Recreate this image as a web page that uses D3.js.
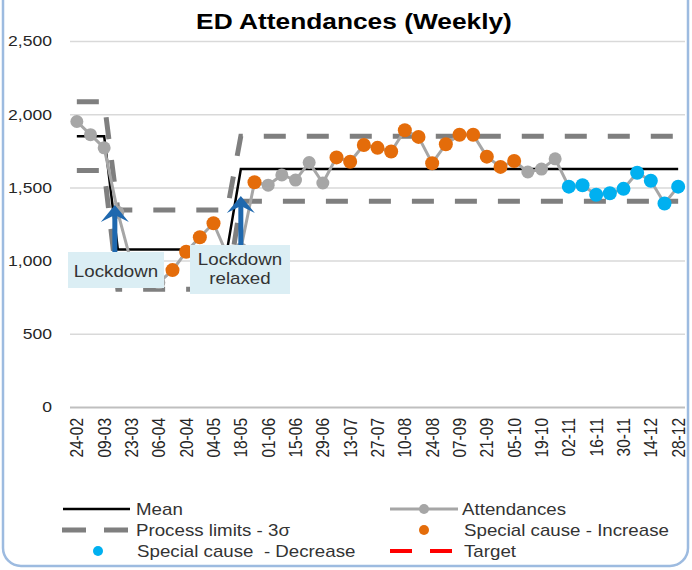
<!DOCTYPE html>
<html>
<head>
<meta charset="utf-8">
<script src="https://cdn.jsdelivr.net/npm/d3@7/dist/d3.min.js"></script>
<style>
  body { margin: 0; background: #fff; }
</style>
</head>
<body>
<div id="chart"></div>
<script>
// weekly categories (w/c dates)
var weeks = ["24-02","02-03","09-03","16-03","23-03","30-03","06-04","13-04","20-04","27-04",
             "04-05","11-05","18-05","25-05","01-06","08-06","15-06","22-06","29-06","06-07",
             "13-07","20-07","27-07","03-08","10-08","17-08","24-08","31-08","07-09","14-09",
             "21-09","28-09","05-10","12-10","19-10","26-10","02-11","09-11","16-11","23-11",
             "30-11","07-12","14-12","21-12","28-12"];

var attendances = [1950, 1860, 1770, 1330, 980, 870, 850, 935, 1060, 1160,
                   1255, 1040, 1080, 1535, 1515, 1585, 1550, 1670, 1530, 1705,
                   1675, 1790, 1770, 1745, 1890, 1845, 1665, 1795, 1860, 1860,
                   1710, 1640, 1680, 1605, 1625, 1695, 1505, 1515, 1450, 1460,
                   1490, 1600, 1545, 1390, 1505];

// points flagged as special cause
var increaseIdx = [7, 8, 9, 10, 13, 19, 20, 21, 22, 23, 24, 25, 26, 27, 28, 29, 30, 31, 32];
var decreaseIdx = [36, 37, 38, 39, 40, 41, 42, 43, 44];

// SPC periods: first week index, mean, upper and lower process limits
var periodStart = [0, 3, 12];
var periodMean  = [1850, 1075, 1626];
var periodUpper = [2085, 1345, 1850];
var periodLower = [1615, 805, 1405];

var yTicks = [0, 500, 1000, 1500, 2000, 2500];

var width = 692,
    height = 570,
    stretch = 1.17;   // source picture is a little wider than tall

var svg = d3.select("#chart").append("svg")
    .attr("width", width)
    .attr("height", height)
    .style("font-family", "Arial, 'Liberation Sans', sans-serif");

// frame
svg.append("rect")
    .attr("x", 3).attr("y", -30)
    .attr("width", 685).attr("height", 596)
    .attr("rx", 18)
    .attr("fill", "#fff")
    .attr("stroke", "#9dbbe0")
    .attr("stroke-width", 2.5);

var x = d3.scaleBand().domain(weeks).range([70, 685]);
var y = d3.scaleLinear().domain([0, 2500]).range([407, 41]);
function cx(w) { return x(w) + x.bandwidth() / 2; }

function periodOf(i) {
  var p = 0;
  periodStart.forEach(function(s, k) { if (i >= s) p = k; });
  return p;
}

var rows = weeks.map(function(w, i) {
  var p = periodOf(i);
  return {
    week: w,
    value: attendances[i],
    mean: periodMean[p],
    ucl: periodUpper[p],
    lcl: periodLower[p],
    type: increaseIdx.indexOf(i) >= 0 ? "inc" : (decreaseIdx.indexOf(i) >= 0 ? "dec" : "none")
  };
});

var colour = { none: "#a6a6a6", inc: "#e46c0a", dec: "#00b0f0" };

// title
svg.append("text")
    .attr("transform", "translate(354,29) scale(" + stretch + ",1)")
    .attr("text-anchor", "middle")
    .attr("font-size", 22.5)
    .attr("font-weight", "bold")
    .attr("fill", "#000")
    .text("ED Attendances (Weekly)");

// y axis + gridlines
var yAxis = svg.append("g")
    .attr("transform", "translate(70,0)")
    .call(d3.axisLeft(y).tickValues(yTicks).tickSize(-615)
      .tickPadding(18 / stretch).tickFormat(d3.format(",")));
yAxis.select(".domain").remove();
yAxis.selectAll("line")
    .attr("stroke", function(d) { return d === 0 ? "#bfbfbf" : "#d9d9d9"; })
    .attr("stroke-width", function(d) { return d === 0 ? 2 : 1.5; });
yAxis.selectAll("text")
    .attr("transform", "scale(" + stretch + ",1)")
    .attr("font-size", 15)
    .attr("font-family", "Arial, 'Liberation Sans', sans-serif")
    .attr("fill", "#262626");

// x axis labels, every other week
var xAxis = svg.append("g")
    .attr("transform", "translate(0,407)")
    .call(d3.axisBottom(x).tickSize(0)
      .tickValues(weeks.filter(function(d, i) { return i % 2 === 0; })));
xAxis.select(".domain").remove();
xAxis.selectAll("text")
    .attr("transform", "rotate(-90) scale(1," + stretch + ")")
    .attr("text-anchor", "end")
    .attr("x", -11)
    .attr("y", 0)
    .attr("dy", "0.35em")
    .attr("font-size", 15.5)
    .attr("font-family", "Arial, 'Liberation Sans', sans-serif")
    .attr("fill", "#262626");

// process limits
["ucl", "lcl"].forEach(function(k) {
  svg.append("path")
      .datum(rows)
      .attr("fill", "none")
      .attr("stroke", "#7f7f7f")
      .attr("stroke-width", 5)
      .attr("stroke-dasharray", "22,21")
      .attr("d", d3.line()
        .x(function(d) { return cx(d.week); })
        .y(function(d) { return y(d[k]); }));
});

// mean
svg.append("path")
    .datum(rows)
    .attr("fill", "none")
    .attr("stroke", "#000")
    .attr("stroke-width", 2.5)
    .attr("d", d3.line()
      .x(function(d) { return cx(d.week); })
      .y(function(d) { return y(d.mean); }));

// attendances
svg.append("path")
    .datum(rows)
    .attr("fill", "none")
    .attr("stroke", "#a6a6a6")
    .attr("stroke-width", 3)
    .attr("d", d3.line()
      .x(function(d) { return cx(d.week); })
      .y(function(d) { return y(d.value); }));

svg.selectAll("circle.pt")
    .data(rows)
    .enter().append("circle")
    .attr("class", "pt")
    .attr("cx", function(d) { return cx(d.week); })
    .attr("cy", function(d) { return y(d.value); })
    .attr("r", function(d) { return d.type === "none" ? 6.5 : 7; })
    .attr("fill", function(d) { return colour[d.type]; });

// annotations
function arrow(xp, base, tip) {
  svg.append("line")
      .attr("x1", xp).attr("x2", xp)
      .attr("y1", base).attr("y2", tip + 8)
      .attr("stroke", "#1f68ae")
      .attr("stroke-width", 5);
  svg.append("path")
      .attr("d", "M" + xp + "," + tip + "L" + (xp + 14) + "," + (tip + 17) +
                 "L" + xp + "," + (tip + 10) + "L" + (xp - 14) + "," + (tip + 17) + "Z")
      .attr("fill", "#1f68ae");
}

function note(bx, by, bw, bh, lines, centreX, firstBase) {
  svg.append("rect")
      .attr("x", bx).attr("y", by)
      .attr("width", bw).attr("height", bh)
      .attr("fill", "#dbeef4");
  lines.forEach(function(t, i) {
    svg.append("text")
        .attr("transform", "translate(" + centreX + "," + (firstBase + i * 19) + ") scale(" + stretch + ",1)")
        .attr("text-anchor", "middle")
        .attr("font-size", 16)
        .attr("fill", "#333")
        .text(t);
  });
}

arrow(cx("16-03") - 3, 252, 205);
note(68, 252, 96, 36, ["Lockdown"], 116, 277);
arrow(cx("18-05"), 245, 196);
note(190, 245, 100, 49, ["Lockdown", "relaxed"], 240, 265);

// legend
var legend = svg.append("g").attr("font-size", 16).attr("fill", "#333")
    .style("white-space", "pre");

function legendText(tx, ty, t) {
  legend.append("text")
      .attr("transform", "translate(" + tx + "," + ty + ") scale(" + stretch + ",1)")
      .attr("xml:space", "preserve")
      .text(t);
}

legend.append("line").attr("x1", 63).attr("x2", 130).attr("y1", 509).attr("y2", 509)
    .attr("stroke", "#000").attr("stroke-width", 2.5);
legendText(136, 515, "Mean");

legend.append("line").attr("x1", 390).attr("x2", 458).attr("y1", 509).attr("y2", 509)
    .attr("stroke", "#a6a6a6").attr("stroke-width", 3);
legend.append("circle").attr("cx", 424).attr("cy", 509).attr("r", 5).attr("fill", "#a6a6a6");
legendText(462, 515, "Attendances");

legend.append("line").attr("x1", 62).attr("x2", 128).attr("y1", 530).attr("y2", 530)
    .attr("stroke", "#7f7f7f").attr("stroke-width", 5).attr("stroke-dasharray", "24,18");
legendText(136, 536, "Process limits - 3\u03c3");

legend.append("circle").attr("cx", 424).attr("cy", 530).attr("r", 5).attr("fill", colour.inc);
legendText(464, 536, "Special cause - Increase");

legend.append("circle").attr("cx", 98).attr("cy", 551).attr("r", 5).attr("fill", colour.dec);
legendText(137, 557, "Special cause  - Decrease");

legend.append("line").attr("x1", 390).attr("x2", 452).attr("y1", 551).attr("y2", 551)
    .attr("stroke", "#ff0000").attr("stroke-width", 4).attr("stroke-dasharray", "22,18");
legendText(464, 557, "Target");
</script>
</body>
</html>
